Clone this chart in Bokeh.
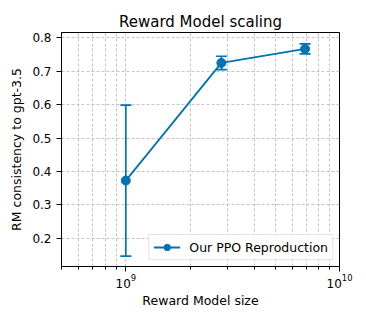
from bokeh.plotting import figure
from bokeh.models import (ColumnDataSource, Range1d, FixedTicker, Whisker, TeeHead,
                          Legend, LegendItem)
from bokeh.embed import file_html
from bokeh.resources import INLINE

# ---- data ----
model_sizes = [1.0e9, 2.8e9, 6.9e9]
consistency = [0.373, 0.725, 0.767]
consistency_err = [0.226, 0.020, 0.015]
series_name = "Our PPO Reproduction"
x_major_ticks = [1e9, 1e10]
y_ticks = [0.2, 0.3, 0.4, 0.5, 0.6, 0.7, 0.8]

FONT = "DejaVu Sans"
BLUE = "#0173b2"

upper = [c + e for c, e in zip(consistency, consistency_err)]
lower = [c - e for c, e in zip(consistency, consistency_err)]
source = ColumnDataSource(dict(x=model_sizes, y=consistency, upper=upper, lower=lower))

p = figure(frame_width=278, frame_height=234, x_axis_type="log",
           x_range=Range1d(5e8, 1e10), y_range=Range1d(0.116, 0.816),
           output_backend="svg", toolbar_location=None,
           min_border_left=61, min_border_right=20, min_border_top=32, min_border_bottom=40)

p.title.text = "Reward Model scaling"
p.title.text_font = FONT
p.title.text_font_size = "15px"
p.title.text_font_style = "normal"
p.title.align = "center"
p.title.text_color = "black"
p.title.standoff = 4

p.outline_line_color = "black"
p.outline_line_width = 1
p.background_fill_color = "white"
p.border_fill_color = "white"

# axes
minor = [m * 10.0 ** e for e in (8, 9) for m in range(2, 10)]
p.xaxis.ticker = FixedTicker(ticks=x_major_ticks, minor_ticks=minor)
p.yaxis.ticker = FixedTicker(ticks=y_ticks)
p.yaxis.formatter.use_scientific = False

for ax in (p.xaxis[0], p.yaxis[0]):
    ax.axis_line_color = "black"
    ax.major_tick_line_color = "black"
    ax.minor_tick_line_color = "black"
    ax.major_tick_out = 5
    ax.major_tick_in = 0
    ax.minor_tick_out = 3
    ax.minor_tick_in = 0
    ax.major_label_text_font = FONT
    ax.major_label_text_font_size = "12px"
    ax.major_label_text_color = "black"
    ax.axis_label_text_font = FONT
    ax.axis_label_text_font_size = "12.5px"
    ax.axis_label_text_font_style = "normal"
    ax.axis_label_text_color = "black"
    ax.major_label_standoff = 5
    ax.axis_label_standoff = 5

p.xaxis.major_label_standoff = 2
p.xaxis.axis_label_standoff = 2
p.yaxis.minor_tick_line_color = None
p.xaxis.axis_label = "Reward Model size"
p.yaxis.axis_label = "RM consistency to gpt-3.5"

# grids
p.xgrid.grid_line_color = "#c4c4c4"
p.xgrid.grid_line_dash = "3 2"
p.xgrid.minor_grid_line_color = "#c4c4c4"
p.xgrid.minor_grid_line_dash = "3 2"
p.ygrid.grid_line_color = "#c4c4c4"
p.ygrid.grid_line_dash = "3 2"

# error bars
wh = Whisker(base="x", upper="upper", lower="lower", source=source,
             line_color=BLUE, line_width=1.7,
             upper_head=TeeHead(size=11, line_color=BLUE, line_width=1.7),
             lower_head=TeeHead(size=11, line_color=BLUE, line_width=1.7),
             level="glyph")
p.add_layout(wh)

ln = p.line("x", "y", source=source, line_color=BLUE, line_width=1.8)
sc = p.scatter("x", "y", source=source, size=9, fill_color=BLUE, line_color=BLUE)

legend = Legend(items=[LegendItem(label=series_name, renderers=[ln, sc])],
                location="bottom_right")
legend.label_text_font = FONT
legend.label_text_font_size = "12.5px"
legend.label_text_color = "black"
legend.glyph_width = 27
legend.glyph_height = 16
legend.label_height = 16
legend.label_standoff = 9
legend.padding = 4
legend.margin = 6
legend.border_line_color = "#cccccc"
legend.border_line_width = 1
legend.background_fill_alpha = 0.85
p.add_layout(legend)

open("out.html", "w").write(file_html(p, INLINE))
